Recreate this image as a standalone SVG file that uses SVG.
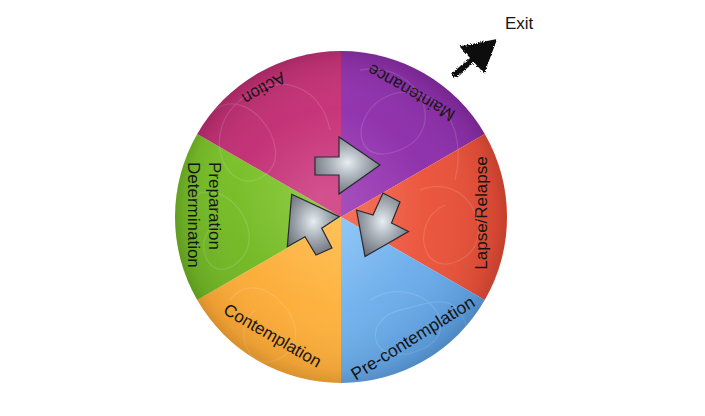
<svg xmlns="http://www.w3.org/2000/svg" width="705" height="416" viewBox="0 0 705 416">
  <defs>
    <style>
      .lbl { font-family: "Liberation Sans", Arial, sans-serif; font-size: 17px; fill: #141414; }
      .seg { stroke: none; }
      .blk { fill: url(#arrowGrad); stroke: #2a2a32; stroke-width: 1.2; stroke-linejoin: miter; }
      .tex { fill: none; stroke: #ffffff; stroke-opacity: 0.13; stroke-width: 1.3; }
    </style>
    <radialGradient id="shade" cx="341" cy="217" r="166" fx="320" fy="195" gradientUnits="userSpaceOnUse">
      <stop offset="0" stop-color="#ffffff" stop-opacity="0.12"/>
      <stop offset="0.6" stop-color="#ffffff" stop-opacity="0"/>
      <stop offset="0.93" stop-color="#000000" stop-opacity="0.06"/>
      <stop offset="1" stop-color="#000000" stop-opacity="0.14"/>
    </radialGradient>
    <radialGradient id="arrowGrad" cx="0.5" cy="0.45" r="0.6">
      <stop offset="0" stop-color="#e6eef2"/>
      <stop offset="0.45" stop-color="#a9b0b8"/>
      <stop offset="1" stop-color="#6a6e77"/>
    </radialGradient>
    <linearGradient id="gBlue" x1="0" y1="0" x2="1" y2="1">
      <stop offset="0" stop-color="#86c2f6"/>
      <stop offset="1" stop-color="#4d92da"/>
    </linearGradient>
    <linearGradient id="gOrange" x1="1" y1="0" x2="0" y2="1">
      <stop offset="0" stop-color="#ffbb48"/>
      <stop offset="1" stop-color="#f9a02e"/>
    </linearGradient>
    <linearGradient id="gGreen" x1="1" y1="0" x2="0" y2="1">
      <stop offset="0" stop-color="#86cc30"/>
      <stop offset="1" stop-color="#6cb024"/>
    </linearGradient>
    <linearGradient id="gAction" x1="1" y1="1" x2="0" y2="0">
      <stop offset="0" stop-color="#d03c82"/>
      <stop offset="1" stop-color="#b62a6c"/>
    </linearGradient>
    <linearGradient id="gMaint" x1="0" y1="1" x2="1" y2="0">
      <stop offset="0" stop-color="#9c3cb6"/>
      <stop offset="1" stop-color="#8228a0"/>
    </linearGradient>
    <linearGradient id="gRed" x1="0" y1="0.5" x2="1" y2="0.5">
      <stop offset="0" stop-color="#f4644a"/>
      <stop offset="1" stop-color="#e24a34"/>
    </linearGradient>
    <clipPath id="wheelClip">
      <circle cx="341" cy="217" r="166"/>
    </clipPath>
    <filter id="rough" x="-20%" y="-20%" width="140%" height="140%">
      <feTurbulence type="fractalNoise" baseFrequency="0.9" numOctaves="2" seed="3" result="n"/>
      <feDisplacementMap in="SourceGraphic" in2="n" scale="3.5" xChannelSelector="R" yChannelSelector="G"/>
    </filter>
  </defs>

  <rect x="0" y="0" width="705" height="416" fill="#ffffff"/>

  <g id="wheel">
    <g id="maintenance">
      <path class="seg" fill="url(#gMaint)" d="M341,217 L341,51 A166,166 0 0 1 484.76,134 Z"/>
      <text class="lbl" text-anchor="middle" transform="translate(414,87.5) rotate(210)">Maintenance</text>
    </g>
    <g id="lapse-relapse">
      <path class="seg" fill="url(#gRed)" d="M341,217 L484.76,134 A166,166 0 0 1 484.76,300 Z"/>
      <text class="lbl" text-anchor="middle" transform="translate(487,213) rotate(-90)">Lapse/Relapse</text>
    </g>
    <g id="pre-contemplation">
      <path class="seg" fill="url(#gBlue)" d="M341,217 L484.76,300 A166,166 0 0 1 341,383 Z"/>
      <text class="lbl" text-anchor="middle" style="font-size:17.5px" transform="translate(416,343) rotate(-32)">Pre-contemplation</text>
    </g>
    <g id="contemplation">
      <path class="seg" fill="url(#gOrange)" d="M341,217 L341,383 A166,166 0 0 1 197.24,300 Z"/>
      <text class="lbl" text-anchor="middle" transform="translate(269.6,340.5) rotate(30)">Contemplation</text>
    </g>
    <g id="preparation-determination">
      <path class="seg" fill="url(#gGreen)" d="M341,217 L197.24,300 A166,166 0 0 1 197.24,134 Z"/>
      <text class="lbl" transform="translate(209.3,162) rotate(90)">Preparation</text>
      <text class="lbl" transform="translate(188.3,162) rotate(90)">Determination</text>
    </g>
    <g id="action">
      <path class="seg" fill="url(#gAction)" d="M341,217 L197.24,134 A166,166 0 0 1 341,51 Z"/>
      <text class="lbl" text-anchor="middle" transform="translate(261,83.3) rotate(150)">Action</text>
    </g>
  </g>

  <g id="texture" clip-path="url(#wheelClip)">
    <path class="tex" d="M205,120 C240,70 300,150 265,175 S200,140 235,105 S320,80 330,130"/>
    <path class="tex" d="M360,70 C420,60 450,130 400,150 S350,110 390,95 S470,120 455,180"/>
    <path class="tex" d="M420,190 C470,170 500,240 460,260 S410,220 445,205"/>
    <path class="tex" d="M370,300 C420,270 470,330 420,350 S360,320 400,310 S460,290 470,340"/>
    <path class="tex" d="M230,300 C260,260 320,330 285,355 S230,330 255,310"/>
    <path class="tex" d="M190,200 C220,170 270,230 240,260 S190,240 215,225"/>
  </g>
  <circle cx="341" cy="217" r="166" fill="url(#shade)"/>

  <g id="connectors">
    <polygon class="blk" points="315,157 339,157 339,137 380,165 339,194 339,175 315,175"/>
    <polygon class="blk" points="383,193 400,202 391.5,223 408.5,231.5 365,256.5 356.5,210 373,215"/>
    <polygon class="blk" points="291.7,194.3 339.3,216.7 321.7,228.3 332,248 316,255 305,236.7 287.3,246.7"/>
    <g id="exit-arrow" filter="url(#rough)">
      <line x1="453" y1="76" x2="476" y2="57" stroke="#111111" stroke-width="6"/>
      <polygon points="496,40 461,47 484,72" fill="#111111" stroke="#111111" stroke-width="1.5"/>
    </g>
  </g>

  <g id="exit">
    <text class="lbl" x="505" y="29.3">Exit</text>
  </g>
</svg>
